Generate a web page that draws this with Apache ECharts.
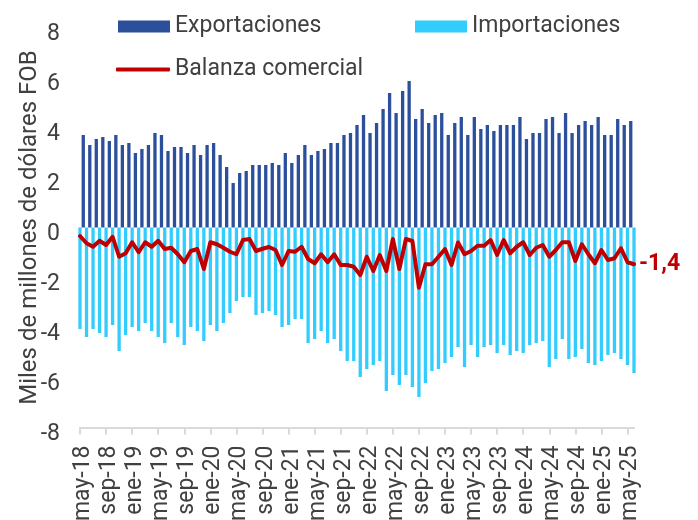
<!DOCTYPE html>
<html>
<head>
<meta charset="utf-8">
<script src="https://cdn.jsdelivr.net/npm/echarts@6/dist/echarts.min.js"></script>
<style>
  html, body { margin: 0; padding: 0; background: #fff; }
  #chart { width: 698px; height: 520px; }
</style>
</head>
<body>
<div id="chart"></div>
<script>
  // meses de exportaciones (may-18 .. may-25)
  var months = [
    'may-18', 'jun-18', 'jul-18', 'ago-18', 'sep-18', 'oct-18', 'nov-18', 'dic-18',
    'ene-19', 'feb-19', 'mar-19', 'abr-19', 'may-19', 'jun-19', 'jul-19', 'ago-19', 'sep-19', 'oct-19', 'nov-19', 'dic-19',
    'ene-20', 'feb-20', 'mar-20', 'abr-20', 'may-20', 'jun-20', 'jul-20', 'ago-20', 'sep-20', 'oct-20', 'nov-20', 'dic-20',
    'ene-21', 'feb-21', 'mar-21', 'abr-21', 'may-21', 'jun-21', 'jul-21', 'ago-21', 'sep-21', 'oct-21', 'nov-21', 'dic-21',
    'ene-22', 'feb-22', 'mar-22', 'abr-22', 'may-22', 'jun-22', 'jul-22', 'ago-22', 'sep-22', 'oct-22', 'nov-22', 'dic-22',
    'ene-23', 'feb-23', 'mar-23', 'abr-23', 'may-23', 'jun-23', 'jul-23', 'ago-23', 'sep-23', 'oct-23', 'nov-23', 'dic-23',
    'ene-24', 'feb-24', 'mar-24', 'abr-24', 'may-24', 'jun-24', 'jul-24', 'ago-24', 'sep-24', 'oct-24', 'nov-24', 'dic-24',
    'ene-25', 'feb-25', 'mar-25', 'abr-25', 'may-25'
  ];
  // importaciones y balanza van en un eje secundario que empieza un mes antes
  var monthsSecondary = ['abr-18'].concat(months);

  var exportaciones = [
    3.70, 3.30, 3.54, 3.62, 3.46, 3.70, 3.30, 3.38, 2.98, 3.14, 3.30, 3.78, 3.70, 3.06, 3.22, 3.22, 2.98, 3.30, 2.90, 3.30,
    3.38, 2.90, 2.42, 1.78, 2.18, 2.26, 2.50, 2.50, 2.50, 2.58, 2.50, 2.98, 2.58, 2.90, 3.30, 2.90, 3.06, 3.14, 3.38, 3.38,
    3.70, 3.78, 4.10, 4.50, 3.78, 4.18, 4.74, 5.38, 4.58, 5.46, 5.86, 4.34, 4.74, 4.18, 4.50, 4.58, 3.70, 4.18, 4.42, 3.70,
    4.42, 3.94, 4.10, 3.86, 4.10, 4.10, 4.10, 4.42, 3.54, 3.78, 3.78, 4.34, 4.42, 3.78, 4.58, 3.78, 4.10, 4.26, 4.10, 4.42,
    3.70, 3.70, 4.34, 4.10, 4.26
  ];
  var importaciones = [
    -4.06, -4.38, -4.06, -4.22, -4.38, -3.90, -4.94, -4.30, -3.98, -4.14, -3.82, -4.14, -4.38, -4.62, -3.82, -4.38, -4.70, -3.98, -4.14, -4.54,
    -3.90, -4.14, -3.82, -3.42, -2.94, -2.78, -2.78, -3.50, -3.42, -3.34, -3.50, -3.98, -3.90, -3.66, -3.66, -4.62, -4.46, -4.14, -4.62, -4.46,
    -4.94, -5.34, -5.34, -5.98, -5.66, -5.50, -5.34, -6.54, -5.90, -6.30, -5.90, -6.38, -6.78, -6.22, -5.74, -5.66, -5.42, -5.18, -4.78, -5.58,
    -4.70, -5.18, -4.78, -4.70, -5.02, -4.70, -5.10, -4.94, -5.02, -4.70, -4.62, -4.54, -5.58, -5.26, -4.46, -5.26, -5.18, -4.86, -5.42, -5.50,
    -5.34, -5.10, -5.02, -5.26, -5.50, -5.82
  ];
  var balanza = [
    -0.34, -0.63, -0.77, -0.53, -0.70, -0.37, -1.17, -1.03, -0.59, -0.99, -0.59, -0.77, -0.53, -0.86, -0.81, -1.07, -1.39, -0.94, -0.86, -1.66,
    -0.59, -0.67, -0.81, -0.97, -1.07, -0.50, -0.46, -0.94, -0.85, -0.78, -0.90, -1.50, -0.94, -0.97, -0.77, -1.26, -1.43, -1.07, -1.39, -1.07,
    -1.50, -1.50, -1.57, -1.90, -1.17, -1.74, -1.10, -1.74, -0.46, -1.66, -0.46, -0.54, -2.41, -1.47, -1.47, -1.17, -0.86, -1.50, -0.60, -1.07,
    -0.94, -0.73, -0.73, -0.50, -1.10, -0.50, -1.03, -0.77, -0.59, -1.10, -0.81, -0.70, -1.17, -0.90, -0.59, -0.59, -1.34, -0.67, -1.07, -1.43,
    -0.90, -1.30, -1.23, -0.83, -1.39, -1.47
  ];
  var ultimoDato = '-1,4';

  var font = 'Roboto, "Noto Sans", sans-serif';
  var textColor = '#404040';
  var fs = 23;

  var myChart = echarts.init(document.getElementById('chart'));
  var option = {
    animation: false,
    textStyle: { fontFamily: font },
    grid: { left: 80, right: 64, top: 27.5, bottom: 92.5, outerBoundsMode: 'none', containLabel: false },
    legend: [
      {
        data: ['Exportaciones'], left: 118, top: 15, padding: 0, icon: 'rect',
        itemWidth: 52, itemHeight: 12, itemGap: 0,
        textStyle: { fontSize: fs, color: textColor, fontFamily: font }
      },
      {
        data: ['Importaciones'], left: 415, top: 15, padding: 0, icon: 'rect',
        itemWidth: 52, itemHeight: 12, itemGap: 0,
        textStyle: { fontSize: fs, color: textColor, fontFamily: font }
      },
      {
        data: ['Balanza comercial'], left: 116, top: 58, padding: 0, icon: 'roundRect',
        itemWidth: 54, itemHeight: 4, itemGap: 0,
        textStyle: { fontSize: fs, color: textColor, fontFamily: font }
      }
    ],
    xAxis: [
      {
        type: 'category', data: months, show: false, boundaryGap: true
      },
      {
        type: 'category', data: monthsSecondary, boundaryGap: false, position: 'bottom', z: 3,
        axisLine: { onZero: true, lineStyle: { color: '#d9d9d9', width: 2 } },
        axisTick: { show: true, interval: 3, length: 7, lineStyle: { color: '#d9d9d9', width: 2 } },
        axisLabel: { show: false }
      },
      {
        type: 'category', data: months, boundaryGap: true, position: 'bottom',
        axisLine: { show: false, onZero: false },
        axisTick: { show: false },
        axisLabel: { interval: 3, rotate: 90, fontSize: fs, color: textColor, margin: 18, fontFamily: font }
      }
    ],
    yAxis: {
      type: 'value', min: -8, max: 8, interval: 2,
      axisLine: { show: false },
      axisTick: { show: false },
      splitLine: { show: false },
      axisLabel: {
        fontSize: fs, color: textColor, margin: 20, fontFamily: font,
        verticalAlign: 'top', lineHeight: 13
      },
      name: 'Miles de millones de dólares FOB',
      nameLocation: 'middle',
      nameGap: 38,
      nameMoveOverlap: false,
      nameTextStyle: { fontSize: 24, color: textColor, fontFamily: font }
    },
    series: [
      {
        name: 'Exportaciones', type: 'bar', xAxisIndex: 0,
        barWidth: 3.3, itemStyle: { color: '#2B4F9B' },
        data: exportaciones
      },
      {
        name: 'Importaciones', type: 'bar', xAxisIndex: 1,
        barWidth: 3.3, itemStyle: { color: '#33CCFF' },
        data: importaciones
      },
      {
        name: 'Balanza comercial', type: 'line', xAxisIndex: 1, z: 5,
        symbol: 'none', showSymbol: false,
        itemStyle: { color: '#C00000' },
        lineStyle: { color: '#C00000', width: 4, cap: 'round', join: 'round' },
        endLabel: {
          show: true, formatter: ultimoDato, color: '#C00000',
          fontWeight: 'bold', fontSize: fs, distance: 5, fontFamily: font
        },
        data: balanza
      }
    ]
  };
  myChart.setOption(option);
</script>
</body>
</html>
